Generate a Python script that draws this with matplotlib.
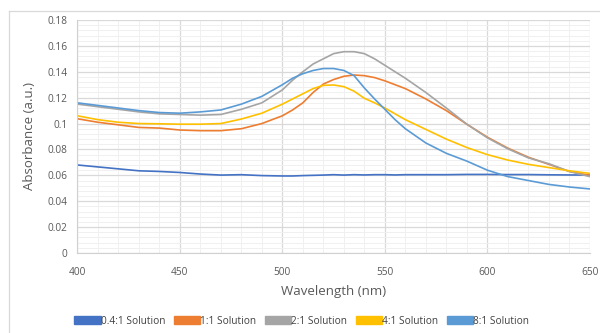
import matplotlib
matplotlib.use("Agg")
import matplotlib.pyplot as plt
from matplotlib.patches import Patch
from matplotlib.lines import Line2D
from matplotlib.ticker import MultipleLocator, FuncFormatter

plt.rcParams['font.family'] = ['Open Sans', 'DejaVu Sans']

wavelength = [400, 410, 420, 430, 440, 450, 460, 470, 480, 490, 500, 505, 510, 515, 520, 525,
              530, 535, 540, 545, 550, 555, 560, 570, 580, 590, 600, 610, 620, 630, 640, 650]

sol_04 = [0.068, 0.0665, 0.065, 0.0635, 0.063, 0.0622, 0.061, 0.0602, 0.0605, 0.0598, 0.0595,
          0.0595, 0.0598, 0.060, 0.0602, 0.0605, 0.0602, 0.0605, 0.0603, 0.0605, 0.0605, 0.0603,
          0.0605, 0.0605, 0.0605, 0.0607, 0.0607, 0.0606, 0.0606, 0.0604, 0.0603, 0.0602]
sol_1 = [0.1037, 0.101, 0.099, 0.097, 0.0965, 0.095, 0.0945, 0.0945, 0.096, 0.100, 0.106,
         0.1105, 0.116, 0.124, 0.1305, 0.134, 0.1365, 0.1375, 0.137, 0.1355, 0.133, 0.130,
         0.127, 0.119, 0.110, 0.0995, 0.0895, 0.081, 0.074, 0.0685, 0.063, 0.060]
sol_2 = [0.115, 0.113, 0.111, 0.109, 0.1075, 0.107, 0.1065, 0.107, 0.111, 0.116, 0.126,
         0.1335, 0.140, 0.146, 0.150, 0.154, 0.1555, 0.1555, 0.154, 0.150, 0.145, 0.140,
         0.135, 0.124, 0.112, 0.0995, 0.089, 0.0805, 0.0735, 0.069, 0.063, 0.059]
sol_4 = [0.106, 0.103, 0.101, 0.100, 0.0998, 0.0995, 0.0995, 0.100, 0.1035, 0.108, 0.115,
         0.119, 0.123, 0.127, 0.1295, 0.1298, 0.1285, 0.125, 0.1195, 0.116, 0.112, 0.1075,
         0.103, 0.0955, 0.088, 0.0815, 0.076, 0.0718, 0.0685, 0.066, 0.0635, 0.0615]
sol_8 = [0.116, 0.114, 0.112, 0.110, 0.1085, 0.108, 0.109, 0.1105, 0.115, 0.121, 0.130,
         0.135, 0.1385, 0.141, 0.1425, 0.1425, 0.141, 0.137, 0.1275, 0.119, 0.111, 0.103,
         0.096, 0.085, 0.077, 0.071, 0.064, 0.059, 0.056, 0.053, 0.051, 0.0495]

labels = ['0.4:1 Solution', '1:1 Solution', '2:1 Solution', '4:1 Solution', '8:1 Solution']
colors = ['#4472C4', '#ED7D31', '#A5A5A5', '#FFC000', '#5B9BD5']
series = [sol_04, sol_1, sol_2, sol_4, sol_8]

fig = plt.figure(figsize=(6, 3.33), dpi=100)
ax = fig.add_axes([0.129, 0.2402, 0.854, 0.6998])

for ys, c in zip(series, colors):
    ax.plot(wavelength, ys, color=c, lw=1.2)

ax.set_xlim(400, 650)
ax.set_ylim(0, 0.18)
ax.xaxis.set_major_locator(MultipleLocator(50))
ax.xaxis.set_minor_locator(MultipleLocator(10))
ax.yaxis.set_major_locator(MultipleLocator(0.02))
ax.yaxis.set_minor_locator(MultipleLocator(0.004))
ax.yaxis.set_major_formatter(FuncFormatter(lambda v, p: f'{v:g}'))

ax.grid(which='major', color='#D9D9D9', lw=0.9)
ax.grid(which='minor', color='#F0F0F0', lw=0.7)
ax.set_axisbelow(True)
for s in ['top', 'right']:
    ax.spines[s].set_visible(False)
for s in ['left', 'bottom']:
    ax.spines[s].set_color('#D0D0D0')
ax.tick_params(which='both', length=0, labelsize=7.3, colors='#595959')
ax.tick_params(axis='x', pad=10)
ax.tick_params(axis='y', pad=7)

ax.set_xlabel('Wavelength (nm)', fontsize=9.5, color='#595959', labelpad=5)
ax.set_ylabel('Absorbance (a.u.)', fontsize=9.5, color='#595959', labelpad=8)

handles = [Patch(facecolor=c, edgecolor=c) for c in colors]
fig.legend(handles, labels, loc='center', bbox_to_anchor=(0.503, 0.036), ncol=5,
           frameon=False, fontsize=7.3, handlelength=2.6, handleheight=0.9,
           handletextpad=0.0, columnspacing=0.85, labelcolor='#404040')

# chart frame edges
fig.add_artist(Line2D([0.015, 0.015], [0.0, 0.967], color='#D9D9D9', lw=0.9))
fig.add_artist(Line2D([0.015, 1.0], [0.967, 0.967], color='#D9D9D9', lw=0.9))

fig.savefig('out.png', dpi=100, facecolor='white')
